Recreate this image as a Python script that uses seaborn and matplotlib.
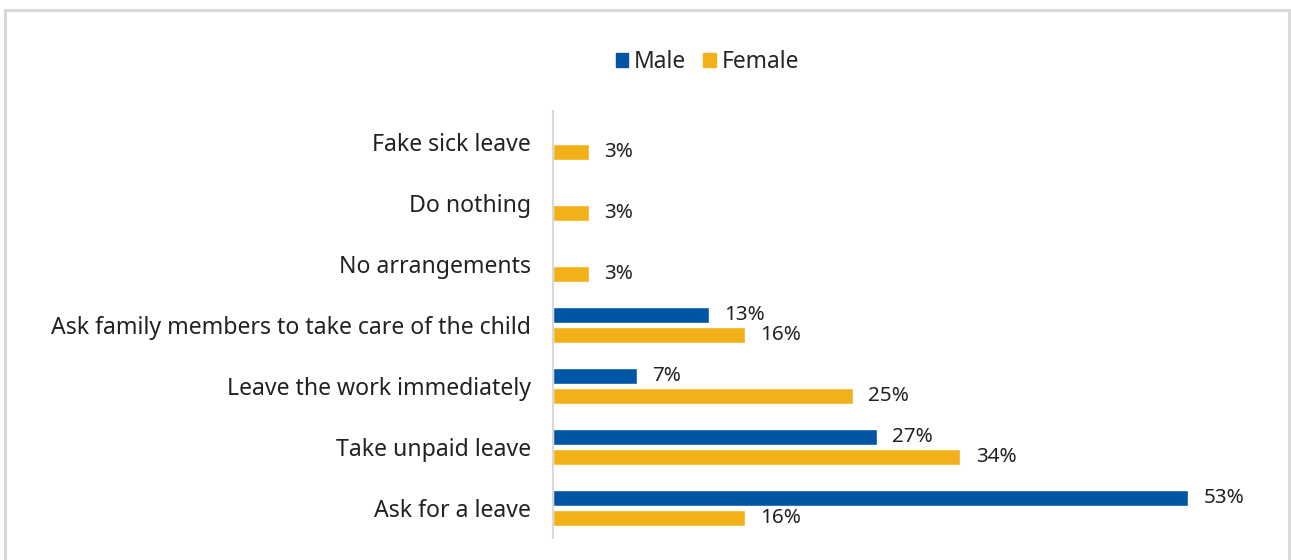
import pandas as pd
import matplotlib.pyplot as plt
import seaborn as sns
from matplotlib.patches import Rectangle

# Data
categories = [
    'Fake sick leave',
    'Do nothing',
    'No arrangements',
    'Ask family members to take care of the child',
    'Leave the work immediately',
    'Take unpaid leave',
    'Ask for a leave',
]
male = [0, 0, 0, 13, 7, 27, 53]
female = [3, 3, 3, 16, 25, 34, 16]
groups = ['Male', 'Female']
colors = ['#0055A5', '#F2B118']

df = pd.DataFrame({
    'Action': categories * 2,
    'Gender': ['Male'] * len(categories) + ['Female'] * len(categories),
    'Share': male + female,
})

sns.set_theme(style="white")
plt.rcParams['font.family'] = ['Noto Sans', 'DejaVu Sans']

fig = plt.figure(figsize=(12.91, 5.60), dpi=100)
ax = fig.add_axes([0.4283, 0.0384, 0.557, 0.7625])

sns.barplot(data=df, y='Action', x='Share', hue='Gender', order=categories,
            hue_order=groups, palette=colors, width=0.66, gap=0.2, orient='h',
            saturation=1, ax=ax)

# value labels, skip the empty male bars
for cont, vals in zip(ax.containers, [male, female]):
    ax.bar_label(cont, labels=[f'{v}%' if v > 0 else '' for v in vals],
                 padding=11, fontsize=14.9, color='#222222')

ax.set_xlim(0, 60)
ax.set_xlabel('')
ax.set_ylabel('')
ax.set_xticks([])
ax.tick_params(axis='y', length=0, pad=16, labelsize=16.6, labelcolor='#222222')
for side in ['top', 'right', 'bottom']:
    ax.spines[side].set_visible(False)
ax.spines['left'].set_color('#D9D9D9')
ax.spines['left'].set_linewidth(1.5)

ax.legend_.remove()
handles = [Rectangle((0, 0), 1, 1, color=c) for c in colors]
fig.legend(handles, groups, loc='center', bbox_to_anchor=(0.548, 0.889), ncol=2,
           frameon=False, fontsize=16.4, handlelength=0.55, handleheight=0.55,
           handletextpad=0.25, columnspacing=0.75)

# light frame around the chart (open at the bottom edge)
fig.add_artist(Rectangle((5 / 1291, -0.1), 1284 / 1291, 1.1 - 10 / 560,
                         transform=fig.transFigure, fill=False,
                         edgecolor='#D9D9D9', linewidth=2.2))

fig.savefig('out.png', dpi=100)
